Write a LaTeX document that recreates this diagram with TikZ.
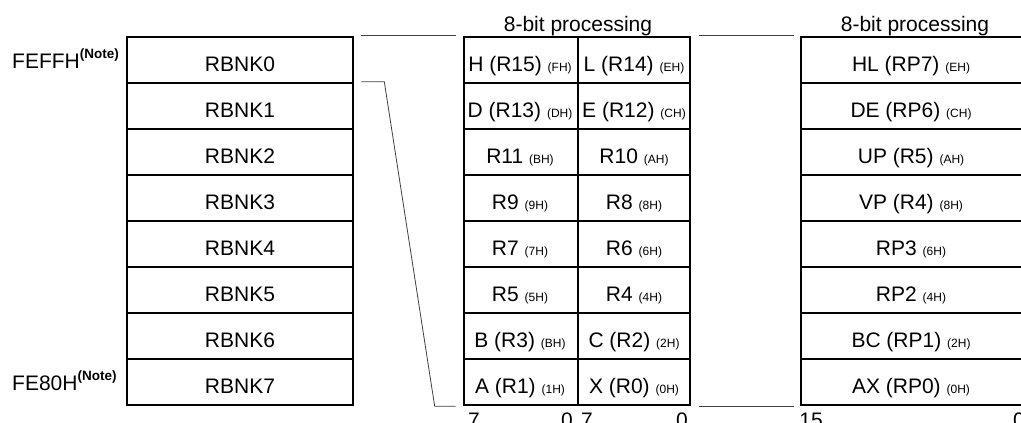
\documentclass[tikz,border=0pt]{standalone}
\usepackage{fontspec}
\setmainfont{Liberation Sans}
\newcommand\sm[1]{{\fontsize{12}{14}\selectfont #1}}
\newcommand\notemark{\raisebox{10pt}{\fontsize{13.5}{15}\selectfont\bfseries (Note)}}
\begin{document}
\begin{tikzpicture}[x=1pt,y=-1pt,
  table/.style={draw, line width=2.6pt, inner sep=0pt, minimum height=368pt},
  rule/.style={line width=1.1pt},
  link/.style={line width=0.8pt, black!75},
  cell/.style={anchor=base, inner sep=0pt, font=\fontsize{21}{25}\selectfont},
  addr/.style={anchor=base west, inner sep=0pt, font=\fontsize{21}{25}\selectfont},
  title/.style={anchor=base, inner sep=0pt, font=\fontsize{21}{25}\selectfont},
  ]
\useasboundingbox (0,0) rectangle (1021,423);
\clip (0,0) rectangle (1021,423);

% ---- left table: register banks
\foreach \i in {1,...,7} \draw[rule] (127,37+46*\i) -- (353,37+46*\i);
\node[table, minimum width=226pt] (L) at (240,221) {};
\foreach \i in {0,...,7} \node[cell] (rb\i) at (240,71+46*\i) {RBNK\i};

\node[addr] (feffh) at (12,68) {FEFFH\notemark};
\node[addr] (fe80h) at (12,390) {FE80H\notemark};

% ---- middle table: 8-bit registers
\foreach \i in {1,...,7} \draw[rule] (464,37+46*\i) -- (690,37+46*\i);
\draw[rule] (578,37) -- (578,405);
\node[table, minimum width=226pt] (M) at (577,221) {};
\node[title] (tm) at (578,31) {8-bit processing};
\foreach \a/\b [count=\i from 0] in {
  {H (R15) \sm{(FH)}}/{L (R14) \sm{(EH)}},
  {D (R13) \sm{(DH)}}/{E (R12) \sm{(CH)}},
  {R11 \sm{(BH)}}/{R10 \sm{(AH)}},
  {R9 \sm{(9H)}}/{R8 \sm{(8H)}},
  {R7 \sm{(7H)}}/{R6 \sm{(6H)}},
  {R5 \sm{(5H)}}/{R4 \sm{(4H)}},
  {B (R3) \sm{(BH)}}/{C (R2) \sm{(2H)}},
  {A (R1) \sm{(1H)}}/{X (R0) \sm{(0H)}}}
{
  \node[cell] (ml\i) at (520,71+46*\i) {\a};
  \node[cell] (mr\i) at (634,71+46*\i) {\b};
}
\node[cell] (m7a) at (474,427) {7};
\node[cell] (m0a) at (567,427) {0};
\node[cell] (m7b) at (587,427) {7};
\node[cell] (m0b) at (682,427) {0};

% ---- right table: 16-bit register pairs
\foreach \i in {1,...,7} \draw[rule] (801,37+46*\i) -- (1023,37+46*\i);
\node[table, minimum width=222pt] (R) at (912,221) {};
\node[title] (tr) at (915,31) {8-bit processing};
\foreach \t [count=\i from 0] in {
  {HL (RP7) \sm{(EH)}},
  {DE (RP6) \sm{(CH)}},
  {UP (R5) \sm{(AH)}},
  {VP (R4) \sm{(8H)}},
  {RP3 \sm{(6H)}},
  {RP2 \sm{(4H)}},
  {BC (RP1) \sm{(2H)}},
  {AX (RP0) \sm{(0H)}}}
{
  \node[cell] (rr\i) at (911,71+46*\i) {\t};
}
\node[cell] (r15) at (811,427) {15};
\node[cell] (r0) at (1019,427) {0};

% ---- connectors
\coordinate (k1) at ([xshift=7pt,yshift=-46pt]L.north east);
\coordinate (k2) at ([xshift=30pt,yshift=-46pt]L.north east);
\coordinate (k3) at ([xshift=-28pt]M.south west);
\draw[link] ([xshift=7pt]L.north east) -- ([xshift=-7pt]M.north west);
\draw[link] (k1) -- (k2) -- (k3) -- ([xshift=-7pt]M.south west);
\draw[link] ([xshift=8pt]M.north east) -- ([xshift=-6pt]R.north west);
\draw[link] ([xshift=8pt]M.south east) -- ([xshift=-6pt]R.south west);
\end{tikzpicture}
\end{document}
